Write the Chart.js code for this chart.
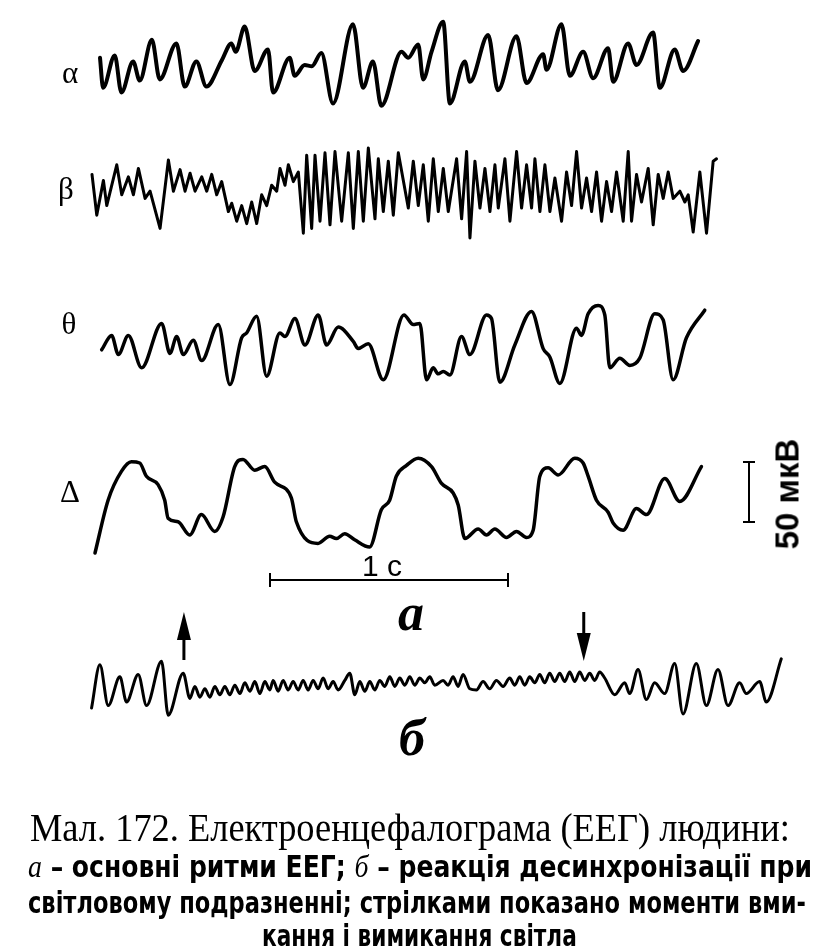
<!DOCTYPE html>
<html>
<head>
<meta charset="utf-8">
<script src="https://cdn.jsdelivr.net/npm/chart.js@4.4.1/dist/chart.umd.min.js"></script>
<style>
  html, body { margin: 0; padding: 0; background: #fff; }
  #wrap { position: relative; width: 828px; height: 950px; overflow: hidden; }
  #eeg { position: absolute; left: 0; top: 0; }
  .txt { position: absolute; white-space: nowrap; color: #000; line-height: 1; }
  .c { transform: translate(-50%, -50%); }
  .greek { font-family: "Liberation Serif", serif; font-size: 31px; }
  .sans { font-family: "Liberation Sans", Arial, sans-serif; }
  .ital { font-family: "Liberation Serif", serif; font-style: italic; font-weight: bold; }
  .cap1 { font-family: "Liberation Serif", serif; font-size: 41px; transform-origin: left top; }
  .cap2 { font-family: "Liberation Sans Narrow", "DejaVu Sans Condensed", "Liberation Sans", sans-serif; font-size: 31px; font-weight: bold; transform-origin: left top; }
  .cap2 i { font-family: "Liberation Serif", serif; font-weight: normal; }
</style>
</head>
<body>
<div id="wrap">
  <canvas id="eeg" width="828" height="950"></canvas>
</div>
<script>
// Ритми ЕЕГ: [час, мс від початку запису; потенціал, мкВ]
const traceLabels = ['α', 'β', 'θ', 'Δ'];

const alphaTrace = [
  [0, 6], [13, -19], [62, 8], [90, -23], [139, 3], [167, -13], [218, 21], [251, -12], [321, 18], [356, -18],
  [405, 3], [447, -18], [512, 4], [552, 18], [570, 11], [608, 32], [650, -5], [706, 13], [727, -23], [797, 6],
  [818, -9], [860, 0], [890, -1], [930, 10], [979, -32], [1063, 34], [1105, -19], [1147, 3], [1182, -34], [1267, 11],
  [1295, 6], [1337, 17], [1358, -12], [1393, 11], [1442, 36], [1470, -32], [1533, 3], [1554, -14], [1631, 25], [1672, -21],
  [1750, 24], [1792, -15], [1862, 9], [1876, -4], [1939, 34], [1974, -9], [2030, 11], [2072, -11], [2135, 14], [2156, -14],
  [2219, 18], [2254, 0], [2324, 27], [2352, -19], [2415, 13], [2450, -5], [2513, 20]
];

const betaTrace = [
  [0, 13], [20, -21], [48, 8], [62, -13], [104, 21], [125, -4], [153, 11], [174, -4], [195, 18], [223, -7],
  [244, -1], [286, -32], [321, 25], [342, -1], [370, 17], [391, -1], [412, 14], [433, -1], [461, 11], [482, -1],
  [503, 13], [524, -4], [545, 7], [573, -18], [587, -11], [608, -26], [629, -13], [650, -28], [671, -10], [692, -28],
  [713, -4], [734, -13], [755, 4], [776, -1], [790, 18], [811, 4], [825, 21], [846, 7], [867, 15], [888, -36],
  [902, 29], [923, -32], [937, 29], [958, -26], [979, 31], [1000, -29], [1021, 32], [1049, -26], [1077, 31], [1098, -32],
  [1119, 32], [1140, -26], [1161, 35], [1189, -24], [1203, 26], [1224, -18], [1245, 24], [1266, -21], [1287, 31], [1329, -15],
  [1350, 24], [1371, -13], [1392, 21], [1413, -26], [1434, 26], [1455, -18], [1476, 18], [1497, -18], [1532, 26], [1553, -24],
  [1574, 32], [1588, -40], [1609, 24], [1630, -15], [1651, 18], [1672, -18], [1693, 21], [1707, -15], [1735, 26], [1756, -26],
  [1784, 32], [1805, -15], [1826, 21], [1847, -15], [1861, 26], [1882, -18], [1903, 21], [1924, -18], [1945, 10], [1973, -26],
  [1994, 15], [2015, -13], [2036, 32], [2057, -15], [2078, 10], [2099, -18], [2120, 15], [2141, -26], [2162, 7], [2183, -18],
  [2204, 15], [2232, -26], [2253, 32], [2267, -26], [2288, 13], [2309, -10], [2337, 18], [2358, -29], [2379, 13], [2400, -7],
  [2421, 15], [2442, -7], [2470, -1], [2491, -10], [2505, -4], [2526, -35], [2554, 15], [2582, -36], [2610, 24], [2624, 26]
];

const thetaTrace = [
  [7, -4], [49, 8], [77, -8], [119, 8], [175, -19], [259, 18], [294, -7], [322, 7], [350, -8], [392, 4],
  [427, -13], [497, 17], [546, -33], [595, 6], [616, 10], [658, 24], [700, -26], [756, 10], [777, 7], [819, 22],
  [861, 0], [917, 25], [952, 0], [1001, 15], [1064, 3], [1085, -3], [1127, 1], [1190, -29], [1277, 25], [1316, 17],
  [1344, 18], [1372, -29], [1400, -19], [1421, -24], [1442, -22], [1470, -25], [1519, 7], [1554, -8], [1624, 25], [1645, 22],
  [1680, -31], [1743, 0], [1813, 28], [1862, -3], [1890, -10], [1932, -32], [2002, 14], [2023, 8], [2051, 26], [2093, 33],
  [2121, 25], [2142, -19], [2184, -11], [2226, -17], [2268, -11], [2331, 26], [2366, 21], [2408, -29], [2464, 6], [2541, 29]
];

const deltaTrace = [
  [0, -40], [55, 4], [111, 28], [153, 36], [188, 35], [216, 24], [265, 17], [293, 4], [307, -11], [349, -14],
  [398, -25], [447, -8], [503, -22], [538, -10], [587, 32], [622, 38], [671, 29], [713, 32], [755, 19], [825, 6],
  [846, -14], [937, -32], [986, -26], [1014, -28], [1049, -24], [1091, -29], [1154, -35], [1203, -4], [1238, 4], [1266, 24],
  [1309, 33], [1358, 39], [1414, 32], [1456, 18], [1505, 10], [1526, 0], [1554, -28], [1610, -20], [1645, -25], [1680, -20],
  [1729, -27], [1771, -22], [1813, -27], [1841, -21], [1869, 24], [1904, 31], [1946, 25], [2016, 39], [2051, 35], [2072, 24],
  [2107, 4], [2156, -6], [2177, -15], [2219, -21], [2275, -3], [2317, -8], [2394, 22], [2457, 3], [2548, 32]
];

// б — реакція десинхронізації (світло ввімкнено / вимкнено)
const lightTrace = [
  [15, -15], [50, 21], [85, -13], [134, 11], [162, -10], [211, 13], [246, -13], [309, 24], [337, -21], [400, 14],
  [428, -7], [449, 3], [470, -6], [491, 1], [512, -6], [533, 3], [554, -4], [575, 3], [596, -4], [617, 4],
  [638, -3], [659, 6], [680, -1], [701, 7], [722, -3], [743, 7], [764, 0], [778, 8], [799, -1], [820, 8],
  [841, 0], [862, 7], [883, 0], [904, 8], [925, 0], [946, 8], [967, 1], [988, 10], [1009, 1], [1030, 7],
  [1051, 0], [1079, 8], [1100, 14], [1121, -4], [1142, 7], [1163, -1], [1184, 7], [1205, 0], [1226, 8], [1247, 3],
  [1268, 11], [1289, 3], [1310, 10], [1331, 4], [1352, 11], [1373, 4], [1394, 10], [1415, 6], [1436, 11], [1457, 4],
  [1492, 8], [1513, 4], [1534, 11], [1555, 3], [1576, 13], [1604, 1], [1632, 0], [1660, 7], [1688, 1], [1716, 8],
  [1744, 3], [1772, 10], [1793, 4], [1814, 11], [1835, 4], [1856, 11], [1877, 6], [1898, 13], [1919, 6], [1940, 14],
  [1961, 7], [1982, 14], [2003, 7], [2024, 15], [2045, 7], [2066, 15], [2087, 8], [2108, 14], [2129, 8], [2150, 15],
  [2171, 10], [2213, -4], [2255, 6], [2276, -3], [2311, 17], [2346, -8], [2381, 6], [2423, -3], [2465, 22], [2500, -20],
  [2556, 22], [2598, -13], [2647, 17], [2689, -13], [2738, 6], [2766, -3], [2822, 7], [2850, -10], [2913, 26]
];

// моменти ввімкнення (вгору) і вимкнення (вниз) світла, мс від початку запису б
const lightOnOff = [403, 2083];

const scaleLabels = ['1 с', '50 мкВ'];
const barTimeMs = 1000;
const barAmpUv = 50;

// розміщення на сторінці (пікселі)
const W = 828, H = 950;
const PX_PER_S = 238, PX_PER_UV = 60 / 50;
const msAt = px => px * 1000 / PX_PER_S;
const uvAt = py => (H - py) / PX_PER_UV;

const traces = [
  { data: alphaTrace, startPx: 100, basePx: 65, width: 4, smooth: true, labelX: 70, labelY: 72 },
  { data: betaTrace, startPx: 92, basePx: 190, width: 3, smooth: false, labelX: 66, labelY: 188 },
  { data: thetaTrace, startPx: 100, basePx: 345, width: 3.5, smooth: true, labelX: 69, labelY: 323 },
  { data: deltaTrace, startPx: 95, basePx: 505, width: 3.5, smooth: true, labelX: 70, labelY: 491 },
  { data: lightTrace, startPx: 88, basePx: 690, width: 3, smooth: true }
];

const timeBar = { startPx: 270, levelPx: 580 };
const ampBar = { xPx: 749, bottomPx: 522 };

const datasets = traces.map(tr => {
  const t0 = msAt(tr.startPx), v0 = uvAt(tr.basePx);
  return {
    data: tr.data.map(([t, v]) => ({ x: t0 + t, y: v0 + v })),
    borderColor: '#000',
    borderWidth: tr.width,
    pointRadius: 0,
    fill: false,
    tension: 0,
    cubicInterpolationMode: tr.smooth ? 'monotone' : 'default',
    borderJoinStyle: 'round',
    borderCapStyle: 'round'
  };
});

// масштабні відрізки та стрілки
const decorations = {
  id: 'decorations',
  afterDatasetsDraw(chart) {
    const { ctx, scales: { x, y } } = chart;
    ctx.save();
    ctx.strokeStyle = '#000';
    ctx.fillStyle = '#000';
    ctx.lineWidth = 2;

    // 1 с
    const tb0 = msAt(timeBar.startPx);
    const xa = x.getPixelForValue(tb0), xb = x.getPixelForValue(tb0 + barTimeMs);
    const yl = y.getPixelForValue(uvAt(timeBar.levelPx));
    ctx.beginPath();
    ctx.moveTo(xa, yl); ctx.lineTo(xb, yl);
    ctx.moveTo(xa, yl - 7); ctx.lineTo(xa, yl + 7);
    ctx.moveTo(xb, yl - 7); ctx.lineTo(xb, yl + 7);
    ctx.stroke();

    // 50 мкВ
    const xv = x.getPixelForValue(msAt(ampBar.xPx));
    const ab0 = uvAt(ampBar.bottomPx);
    const ya = y.getPixelForValue(ab0), yb = y.getPixelForValue(ab0 + barAmpUv);
    ctx.beginPath();
    ctx.moveTo(xv, ya); ctx.lineTo(xv, yb);
    ctx.moveTo(xv - 6, ya); ctx.lineTo(xv + 6, ya);
    ctx.moveTo(xv - 6, yb); ctx.lineTo(xv + 6, yb);
    ctx.stroke();

    // стрілки
    const lt = traces[4];
    lightOnOff.forEach((t, i) => {
      const ax = x.getPixelForValue(msAt(lt.startPx) + t);
      ctx.lineWidth = 3;
      ctx.beginPath();
      if (i === 0) {
        ctx.moveTo(ax, 660); ctx.lineTo(ax, 630);
        ctx.stroke();
        ctx.beginPath();
        ctx.moveTo(ax, 612); ctx.lineTo(ax - 7, 640); ctx.lineTo(ax + 7, 640);
      } else {
        ctx.moveTo(ax, 612); ctx.lineTo(ax, 640);
        ctx.stroke();
        ctx.beginPath();
        ctx.moveTo(ax, 661); ctx.lineTo(ax - 7, 633); ctx.lineTo(ax + 7, 633);
      }
      ctx.closePath();
      ctx.fill();
    });
    ctx.restore();
  }
};

new Chart(document.getElementById('eeg'), {
  type: 'line',
  data: { datasets: datasets },
  options: {
    responsive: false,
    animation: false,
    devicePixelRatio: 1,
    layout: { padding: 0 },
    plugins: { legend: { display: false }, tooltip: { enabled: false } },
    scales: {
      x: { type: 'linear', display: false, min: 0, max: msAt(W) },
      y: { type: 'linear', display: false, min: 0, max: uvAt(0) }
    }
  },
  plugins: [decorations]
});

// підписи
const wrap = document.getElementById('wrap');
function addText(html, cls, left, top, extra) {
  const d = document.createElement('div');
  d.className = 'txt ' + cls;
  d.innerHTML = html;
  d.style.left = left + 'px';
  d.style.top = top + 'px';
  if (extra) Object.assign(d.style, extra);
  wrap.appendChild(d);
  return d;
}

traceLabels.forEach((lbl, i) => {
  addText(lbl, 'greek c', traces[i].labelX, traces[i].labelY);
});

addText(scaleLabels[0], 'sans c', 382, 566, { fontSize: '30px' });
addText(scaleLabels[1], 'sans', 787, 494, { fontSize: '33px', fontWeight: 'bold', transform: 'translate(-50%, -50%) rotate(-90deg)' });
addText('а', 'ital c', 411, 613, { fontSize: '52px' });
addText('б', 'ital c', 412, 738, { fontSize: '52px' });

// підпис під рисунком: [текст, клас, ліворуч, згори, ширина]
const captionLines = [
  ['Мал. 172. Електроенцефалограма (ЕЕГ) людини:', 'cap1', 30, 807, 760],
  ['<i>а</i> – основні ритми ЕЕГ; <i>б</i> – реакція десинхронізації при', 'cap2', 28, 851, 784],
  ['світловому подразненні; стрілками показано моменти вми-', 'cap2', 28, 887, 778],
  ['кання і вимикання світла', 'cap2', 262, 920, 315]
];
captionLines.forEach(([text, cls, left, top, w]) => {
  const d = addText(text, cls, left, top);
  const k = w / d.offsetWidth;
  d.style.transform = 'scaleX(' + k + ')';
});
</script>
</body>
</html>
